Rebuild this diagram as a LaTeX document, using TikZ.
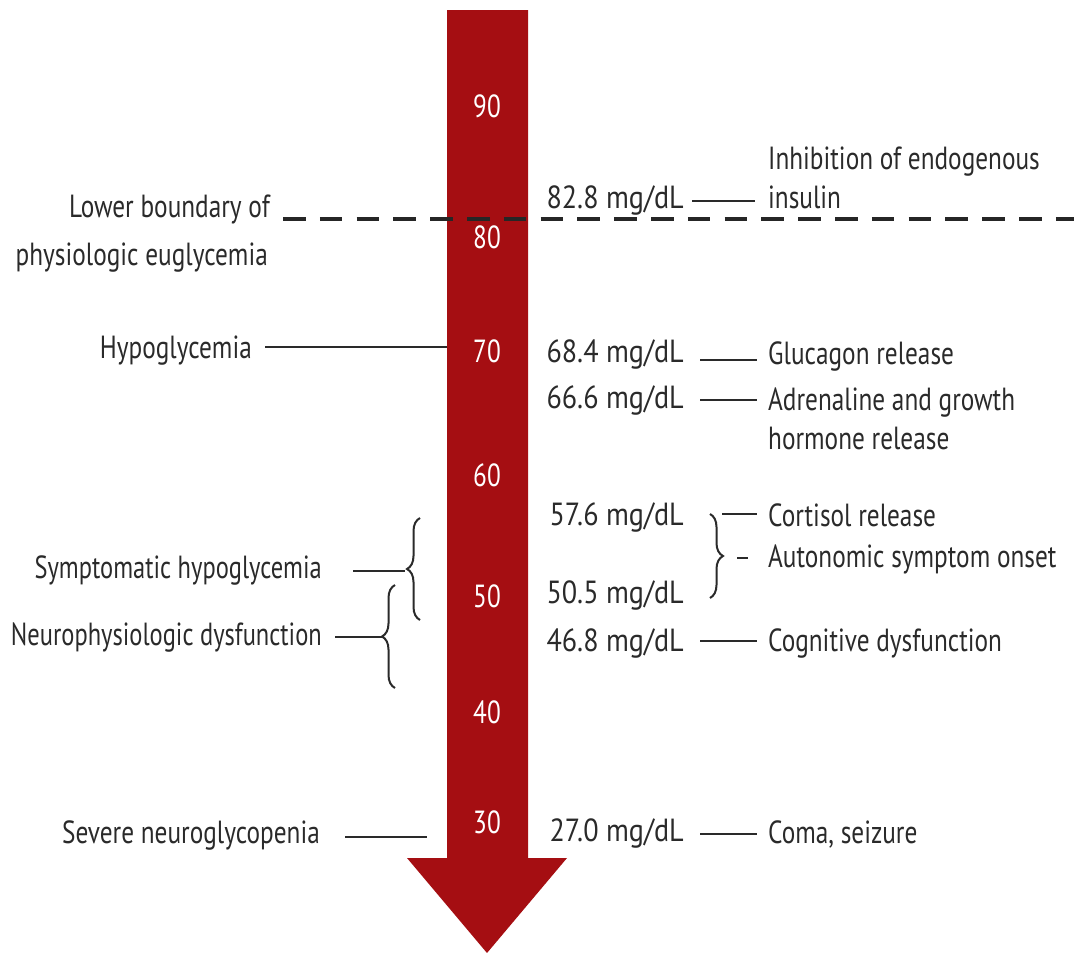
\documentclass[tikz,border=0pt]{standalone}
\usepackage{fontspec}
\setmainfont{PT Sans}[FakeStretch=0.79]
\newfontfamily\valfont{PT Sans}[FakeStretch=0.88]
\newfontfamily\narrowfont{PT Sans}[FakeStretch=0.765]
\usetikzlibrary{decorations.pathreplacing}
\definecolor{arrowred}{HTML}{A50E12}
\definecolor{ink}{HTML}{2A2A2A}
\begin{document}
\begin{tikzpicture}[x=1pt,y=-1pt,
  lbl/.style={font=\fontsize{32}{39}\selectfont, text=ink, inner sep=0pt},
  nlbl/.style={font=\narrowfont\fontsize{32}{39}\selectfont, text=ink, inner sep=0pt},
  val/.style={font=\valfont\fontsize{32}{39}\selectfont, text=ink, inner sep=0pt, anchor=base east},
  num/.style={font=\fontsize{32}{39}\selectfont, text=white, inner sep=0pt, anchor=base},
  conn/.style={draw=ink, line width=2pt},
  bracestyle/.style={draw=ink, line width=2pt, decorate, decoration={brace, amplitude=13pt, aspect=0.5}}]
\useasboundingbox (0,0) rectangle (1074,953);
% arrow
\coordinate (sTL) at (447,10);
\coordinate (sTR) at (528,10);
\fill[arrowred] (sTL) -- (sTR) -- (528,858) -- (567,858) -- (487,953) -- (407,858) -- (447,858) -- cycle;
% dashed boundary
\coordinate (dA) at (283,219);
\coordinate (dB) at (1074,219);
\draw[draw=black!85, line width=4.5pt, dash pattern=on 22.5pt off 14.3pt] (dA) -- (dB);
% scale numbers
\node[num] (n90) at (487,117) {90};
\node[num] (n80) at (487,248) {80};
\node[num] (n70) at (487,362) {70};
\node[num] (n60) at (487,486) {60};
\node[num] (n50) at (487,607) {50};
\node[num] (n40) at (487,723) {40};
\node[num] (n30) at (487,833) {30};
% left labels
\node[lbl, anchor=base east] (lowA) at (270,217) {Lower boundary of};
\node[lbl, anchor=base east] (lowB) at (268,265) {physiologic euglycemia};
\node[lbl, anchor=base east] (hypo) at (252,358) {Hypoglycemia};
\node[nlbl, anchor=base east] (sympt) at (322,578) {Symptomatic hypoglycemia};
\node[nlbl, anchor=base east] (neuro) at (322,645) {Neurophysiologic dysfunction};
\node[lbl, anchor=base east] (severe) at (320,843) {Severe neuroglycopenia};
\coordinate (hypoA) at (265,347);
\coordinate (hypoB) at (447,347);
\draw[conn] (hypoA) -- (hypoB);
\coordinate (symA) at (353,571);
\coordinate (symB) at (405,571);
\draw[conn] (symA) -- (symB);
\coordinate (neuA) at (335,637);
\coordinate (neuB) at (382,637);
\draw[conn] (neuA) -- (neuB);
\coordinate (sevA) at (345,837);
\coordinate (sevB) at (427,837);
\draw[conn] (sevA) -- (sevB);
% left braces
\coordinate (b1top) at (420,518);
\coordinate (b1bot) at (420,620);
\draw[bracestyle] (b1bot) -- (b1top);
\coordinate (b2top) at (395,585);
\coordinate (b2bot) at (395,688);
\draw[bracestyle] (b2bot) -- (b2top);
% right values
\node[val] (v828) at (684,208) {82.8 mg/dL};
\node[val] (v684) at (684,362) {68.4 mg/dL};
\node[val] (v666) at (684,408) {66.6 mg/dL};
\node[val] (v576) at (684,525) {57.6 mg/dL};
\node[val] (v505) at (684,603) {50.5 mg/dL};
\node[val] (v468) at (684,651) {46.8 mg/dL};
\node[val] (v270) at (684,841) {27.0 mg/dL};
% right effects
\node[lbl, anchor=base west] (inhA) at (768,169) {Inhibition of endogenous};
\node[lbl, anchor=base west] (inhB) at (768,208) {insulin};
\node[lbl, anchor=base west] (gluc) at (768,364) {Glucagon release};
\node[lbl, anchor=base west] (adrA) at (768,410) {Adrenaline and growth};
\node[lbl, anchor=base west] (adrB) at (768,449) {hormone release};
\node[lbl, anchor=base west] (cort) at (768,526) {Cortisol release};
\node[lbl, anchor=base west] (auto) at (768,567) {Autonomic symptom onset};
\node[lbl, anchor=base west] (cogn) at (768,651) {Cognitive dysfunction};
\node[lbl, anchor=base west] (coma) at (768,843) {Coma, seizure};
% right connectors
\coordinate (c1a) at (692,201); \coordinate (c1b) at (755,201);
\draw[conn] (c1a) -- (c1b);
\coordinate (c2a) at (700,360); \coordinate (c2b) at (757,360);
\draw[conn] (c2a) -- (c2b);
\coordinate (c3a) at (700,400); \coordinate (c3b) at (757,400);
\draw[conn] (c3a) -- (c3b);
\coordinate (c4a) at (700,641); \coordinate (c4b) at (757,641);
\draw[conn] (c4a) -- (c4b);
\coordinate (c5a) at (700,834); \coordinate (c5b) at (757,834);
\draw[conn] (c5a) -- (c5b);
% right brace
\coordinate (rbtop) at (710,514);
\coordinate (rbbot) at (710,598);
\draw[bracestyle] (rbtop) -- (rbbot);
\coordinate (rbl1) at (722,514); \coordinate (rbl2) at (757,514);
\draw[conn] (rbl1) -- (rbl2);
\coordinate (rbd1) at (737,558); \coordinate (rbd2) at (748,558);
\draw[conn] (rbd1) -- (rbd2);
\end{tikzpicture}
\end{document}
